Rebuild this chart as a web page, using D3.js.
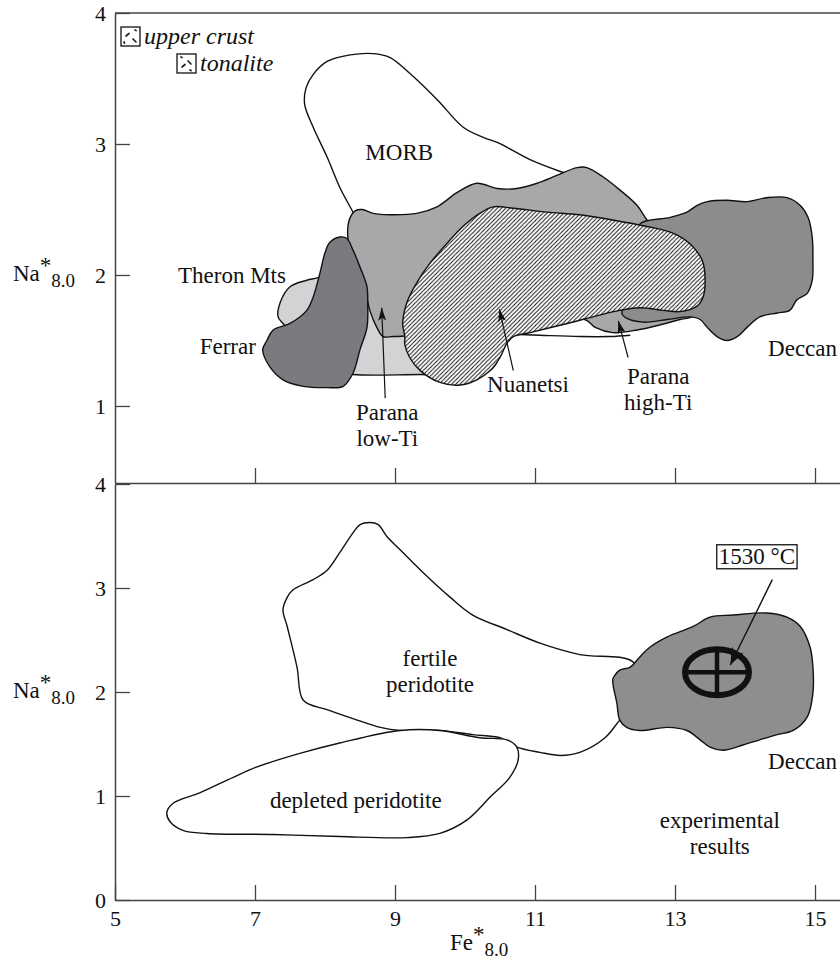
<!DOCTYPE html>
<html><head><meta charset="utf-8">
<script src="https://cdn.jsdelivr.net/npm/d3@7"></script>
<style>
html,body{margin:0;padding:0;background:#fff;}
text{font-family:"Liberation Serif","Times New Roman",serif;fill:#111;}
</style></head>
<body><svg id="c" width="840" height="967"></svg>
<script>
// ---------- data (Fe*8.0 , Na*8.0) ----------
const xTicks = [5, 7, 9, 11, 13, 15];
const topYTicks = [1, 2, 3, 4];
const botYTicks = [0, 1, 2, 3, 4];

// upper panel fields
const morb = [[8.40,2.48],[8.21,2.67],[8.03,2.90],[7.83,3.13],[7.71,3.30],[7.73,3.43],[7.83,3.53],[8.03,3.63],[8.36,3.68],[8.69,3.69],[8.93,3.66],[9.21,3.54],[9.60,3.34],[9.97,3.13],[10.26,3.05],[10.47,3.01],[10.93,2.88],[11.36,2.79],[11.71,2.73],[11.93,2.57],[11.36,2.46],[9.79,2.42],[8.50,2.38]];
const theronMts = [[7.90,1.98],[7.74,1.96],[7.50,1.91],[7.36,1.79],[7.33,1.68],[7.40,1.63],[7.64,1.50],[8.07,1.27],[8.40,1.24],[9.36,1.24],[10.21,1.24],[10.43,1.31],[10.50,1.66],[9.79,1.96],[8.79,2.04],[8.21,2.05]];
const parana = [[8.36,2.44],[8.43,2.49],[8.53,2.50],[8.69,2.47],[8.93,2.46],[9.31,2.47],[9.60,2.52],[9.89,2.63],[10.17,2.70],[10.46,2.66],[10.74,2.66],[11.03,2.70],[11.31,2.76],[11.60,2.82],[11.74,2.82],[11.97,2.75],[12.21,2.65],[12.46,2.53],[12.60,2.42],[12.86,2.27],[13.21,1.89],[13.26,1.69],[13.07,1.66],[12.79,1.62],[12.46,1.58],[12.11,1.56],[11.86,1.60],[11.71,1.66],[11.21,1.62],[10.50,1.56],[9.36,1.54],[8.97,1.53],[8.83,1.53],[8.74,1.60],[8.64,1.73],[8.57,1.89],[8.43,2.08],[8.33,2.27],[8.33,2.38]];
const paranaLowLine = [[10.57,1.55],[11.07,1.54],[11.64,1.53],[12.07,1.53],[12.36,1.54]];
const ferrar = [[8.21,2.29],[8.07,2.25],[8.00,2.17],[7.93,2.02],[7.83,1.83],[7.74,1.73],[7.50,1.63],[7.26,1.58],[7.17,1.50],[7.11,1.43],[7.21,1.30],[7.40,1.20],[7.69,1.15],[8.03,1.14],[8.26,1.15],[8.40,1.25],[8.50,1.43],[8.60,1.60],[8.61,1.79],[8.60,1.91],[8.50,2.06],[8.40,2.19],[8.31,2.28]];
const deccanTop = [[12.50,2.39],[12.93,2.44],[13.17,2.48],[13.31,2.53],[13.46,2.56],[13.74,2.57],[14.03,2.56],[14.31,2.59],[14.60,2.59],[14.79,2.53],[14.90,2.44],[14.96,2.29],[14.97,2.11],[14.96,1.96],[14.89,1.86],[14.74,1.81],[14.64,1.73],[14.46,1.71],[14.21,1.68],[14.03,1.60],[13.89,1.53],[13.74,1.50],[13.60,1.53],[13.46,1.60],[13.36,1.66],[13.21,1.68],[12.89,1.66],[12.54,1.64],[12.31,1.67],[12.24,1.71],[12.50,1.96],[12.50,2.27]];
const nuanetsi = [[9.14,1.53],[9.11,1.63],[9.17,1.79],[9.31,1.94],[9.50,2.09],[9.74,2.24],[9.97,2.37],[10.21,2.47],[10.40,2.52],[10.69,2.51],[11.17,2.48],[11.64,2.46],[12.11,2.42],[12.60,2.37],[12.97,2.32],[13.21,2.24],[13.39,2.11],[13.43,1.96],[13.40,1.83],[13.31,1.76],[13.07,1.72],[12.83,1.73],[12.50,1.75],[12.21,1.73],[11.89,1.69],[11.46,1.63],[10.93,1.56],[10.69,1.53],[10.60,1.48],[10.50,1.37],[10.36,1.27],[10.17,1.20],[9.93,1.16],[9.64,1.18],[9.36,1.27],[9.21,1.37],[9.14,1.47]];

// lower panel fields
const fertilePeridotite = [[8.50,3.61],[8.64,3.63],[8.76,3.61],[8.89,3.49],[9.07,3.37],[9.40,3.15],[9.79,2.91],[10.11,2.74],[10.60,2.60],[11.07,2.47],[11.64,2.36],[12.40,2.29],[12.57,2.02],[12.21,1.73],[12.00,1.56],[11.64,1.42],[11.36,1.39],[11.07,1.42],[10.74,1.47],[10.50,1.56],[10.11,1.59],[9.64,1.63],[9.07,1.63],[8.79,1.66],[8.46,1.73],[8.03,1.83],[7.69,1.92],[7.60,2.24],[7.46,2.63],[7.40,2.79],[7.46,2.91],[7.54,2.98],[7.83,3.08],[8.03,3.17],[8.21,3.34],[8.40,3.53]];
const depletedPeridotite = [[9.07,1.63],[8.21,1.51],[7.64,1.41],[7.03,1.28],[6.69,1.18],[6.21,1.03],[5.83,0.93],[5.74,0.84],[5.79,0.75],[5.97,0.67],[6.31,0.64],[7.26,0.63],[8.21,0.61],[9.17,0.60],[9.64,0.64],[10.03,0.77],[10.36,0.99],[10.64,1.18],[10.76,1.35],[10.74,1.47],[10.60,1.54],[10.21,1.56],[9.64,1.63]];
const deccanBottom = [[12.11,2.12],[12.17,1.89],[12.21,1.73],[12.31,1.66],[12.50,1.63],[12.89,1.66],[13.17,1.63],[13.36,1.54],[13.50,1.47],[13.69,1.44],[13.97,1.49],[14.21,1.54],[14.46,1.59],[14.69,1.63],[14.89,1.76],[14.97,1.99],[14.97,2.24],[14.93,2.43],[14.79,2.63],[14.60,2.72],[14.31,2.76],[13.83,2.74],[13.50,2.72],[13.26,2.63],[12.89,2.53],[12.64,2.43],[12.50,2.34],[12.36,2.24],[12.21,2.21],[12.14,2.16]];
const experimentPoint = [13.60, 2.19];   // 1530 °C experimental result
const experimentNote = {text: "1530 °C", at: [14.17, 3.31], from: [14.39, 3.08], to: [13.79, 2.26]};

// arrows (tail -> tip) in the upper panel
const topArrows = [
  {from: [8.86, 1.06], to: [8.81, 1.75]},
  {from: [10.69, 1.27], to: [10.49, 1.74]},
  {from: [12.33, 1.37], to: [12.19, 1.65]}
];
const topLabels = [
  {lines: ["MORB"], at: [9.06, 2.88], anchor: "middle"},
  {lines: ["Theron Mts"], at: [5.90, 1.94], anchor: "start"},
  {lines: ["Ferrar"], at: [6.21, 1.40], anchor: "start"},
  {lines: ["Parana", "low-Ti"], at: [8.89, 0.89], anchor: "middle"},
  {lines: ["Nuanetsi"], at: [10.90, 1.11], anchor: "middle"},
  {lines: ["Parana", "high-Ti"], at: [12.76, 1.17], anchor: "middle"},
  {lines: ["Deccan"], at: [14.33, 1.38], anchor: "start"}
];
const botLabels = [
  {lines: ["fertile", "peridotite"], at: [9.50, 2.25], anchor: "middle"},
  {lines: ["depleted peridotite"], at: [8.44, 0.88], anchor: "middle"},
  {lines: ["Deccan"], at: [14.33, 1.26], anchor: "start"},
  {lines: ["experimental", "results"], at: [13.64, 0.69], anchor: "middle"}
];
const legendItems = ["upper crust", "tonalite"];

// ---------- drawing ----------
const svg = d3.select("#c");
svg.append("rect").attr("width", 840).attr("height", 967).attr("fill", "#fff");

const x = d3.scaleLinear().domain([5, 15.357]).range([115, 840]);
const yTop = d3.scaleLinear().domain([0.412, 4]).range([483, 13]);
const yBot = d3.scaleLinear().domain([0, 4]).range([900, 484]);

const LABEL = 23;
const defs = svg.append("defs");
const pat = defs.append("pattern").attr("id", "hatch").attr("patternUnits", "userSpaceOnUse")
  .attr("width", 4.2).attr("height", 4.2);
pat.append("rect").attr("width", 4.2).attr("height", 4.2).attr("fill", "#fff");
pat.append("path").attr("d", "M-1.05,1.05 L1.05,-1.05 M0,4.2 L4.2,0 M3.15,5.25 L5.25,3.15")
  .attr("stroke", "#111").attr("stroke-width", 1);

function marker(id, len, wid) {
  defs.append("marker").attr("id", id).attr("markerUnits", "userSpaceOnUse")
    .attr("viewBox", `0 ${-wid/2} ${len} ${wid}`).attr("refX", len).attr("refY", 0)
    .attr("markerWidth", len).attr("markerHeight", wid).attr("orient", "auto")
    .append("path").attr("d", `M0,${-wid/2} L${len},0 L0,${wid/2} L${len*0.25},0 Z`).attr("fill", "#111");
}
marker("arr", 13, 8);
marker("arrBig", 17, 13);

const lineTop = d3.line().x(d => x(d[0])).y(d => yTop(d[1])).curve(d3.curveCatmullRomClosed.alpha(0.5));
const lineBot = d3.line().x(d => x(d[0])).y(d => yBot(d[1])).curve(d3.curveCatmullRomClosed.alpha(0.5));
const openTop = d3.line().x(d => x(d[0])).y(d => yTop(d[1])).curve(d3.curveCatmullRom.alpha(0.5));

const gTop = svg.append("g");
function field(g, gen, pts, fill) {
  g.append("path").attr("d", gen(pts)).attr("fill", fill)
    .attr("stroke", "#111").attr("stroke-width", 1.4).attr("stroke-linejoin", "round");
}
field(gTop, lineTop, morb, "#fff");
field(gTop, lineTop, theronMts, "#d3d3d5");
field(gTop, lineTop, parana, "#a8a8ab");
gTop.append("path").attr("d", openTop(paranaLowLine)).attr("fill", "none").attr("stroke", "#111").attr("stroke-width", 1.4);
field(gTop, lineTop, ferrar, "#7b7b7f");
field(gTop, lineTop, deccanTop, "#8c8c8f");
field(gTop, lineTop, nuanetsi, "url(#hatch)");

topArrows.forEach(a => {
  gTop.append("line").attr("x1", x(a.from[0])).attr("y1", yTop(a.from[1]))
    .attr("x2", x(a.to[0])).attr("y2", yTop(a.to[1]))
    .attr("stroke", "#111").attr("stroke-width", 1.2).attr("marker-end", "url(#arr)");
});

function labels(g, list, yS) {
  list.forEach(l => {
    const t = g.append("text").attr("text-anchor", l.anchor).attr("font-size", LABEL)
      .attr("x", x(l.at[0])).attr("y", yS(l.at[1]));
    l.lines.forEach((s, i) => t.append("tspan").attr("x", x(l.at[0])).attr("dy", i ? 26 : 0).text(s));
  });
}
labels(gTop, topLabels, yTop);

// legend
const lg = svg.append("g");
const legendPos = [[121, 27], [177, 54]];
legendItems.forEach((name, i) => {
  const [lx, ly] = legendPos[i];
  lg.append("rect").attr("x", lx).attr("y", ly).attr("width", 19).attr("height", 19)
    .attr("fill", "#fff").attr("stroke", "#222").attr("stroke-width", 1.4);
  const segs = i === 0
    ? [[14,3,15,3.5],[5,9,8,6.5],[12,12,15,15],[3,15,3.5,16]]
    : [[4,3,5,3.5],[11,7,14,10],[5,13,8,10.5],[13,16,14,16.5]];
  segs.forEach(s => lg.append("line").attr("x1", lx+s[0]).attr("y1", ly+s[1]).attr("x2", lx+s[2]).attr("y2", ly+s[3])
    .attr("stroke", "#222").attr("stroke-width", 1.7).attr("stroke-linecap", "round"));
  lg.append("text").attr("x", lx + 23).attr("y", ly + 17).attr("font-size", 24)
    .attr("font-style", "italic").text(name);
});

// lower panel
const gBot = svg.append("g");
field(gBot, lineBot, fertilePeridotite, "#fff");
field(gBot, lineBot, depletedPeridotite, "#fff");
field(gBot, lineBot, deccanBottom, "#8e8e90");
labels(gBot, botLabels, yBot);

// experiment symbol
const ex = x(experimentPoint[0]), ey = yBot(experimentPoint[1]);
gBot.append("ellipse").attr("cx", ex).attr("cy", ey).attr("rx", 32).attr("ry", 23)
  .attr("fill", "none").attr("stroke", "#111").attr("stroke-width", 6);
gBot.append("line").attr("x1", ex - 32).attr("x2", ex + 32).attr("y1", ey).attr("y2", ey).attr("stroke", "#111").attr("stroke-width", 4.5);
gBot.append("line").attr("x1", ex).attr("x2", ex).attr("y1", ey - 23).attr("y2", ey + 23).attr("stroke", "#111").attr("stroke-width", 4.5);

const nt = gBot.append("text").attr("x", x(experimentNote.at[0])).attr("y", yBot(experimentNote.at[1]) + 8)
  .attr("text-anchor", "middle").attr("font-size", LABEL).text(experimentNote.text);
const bb = nt.node().getBBox();
gBot.insert("rect", "text").attr("x", bb.x - 2).attr("y", bb.y + 1).attr("width", bb.width + 4).attr("height", bb.height - 1)
  .attr("fill", "#fff").attr("stroke", "#111").attr("stroke-width", 1.3);
gBot.append("line").attr("x1", x(experimentNote.from[0])).attr("y1", yBot(experimentNote.from[1]))
  .attr("x2", x(experimentNote.to[0])).attr("y2", yBot(experimentNote.to[1]))
  .attr("stroke", "#111").attr("stroke-width", 1.4).attr("marker-end", "url(#arrBig)");

// ---------- axes ----------
const axisColor = "#444";
function styleAxis(g) {
  g.selectAll("path.domain").attr("stroke", axisColor).attr("stroke-width", 1.5);
  g.selectAll(".tick line").attr("stroke", axisColor).attr("stroke-width", 1.3);
  g.selectAll(".tick text").attr("font-size", 22).attr("font-family", "Liberation Serif, serif").attr("fill", "#111");
}
// top border
svg.append("line").attr("x1", 115).attr("x2", 840).attr("y1", yTop(4)).attr("y2", yTop(4))
  .attr("stroke", axisColor).attr("stroke-width", 1.5);

const axTopY = svg.append("g").attr("transform", "translate(115,0)")
  .call(d3.axisLeft(yTop).tickValues(topYTicks).tickSizeInner(-15).tickSizeOuter(0).tickPadding(9).tickFormat(d3.format("d")));
styleAxis(axTopY);
const axBotY = svg.append("g").attr("transform", "translate(115,0)")
  .call(d3.axisLeft(yBot).tickValues(botYTicks).tickSizeInner(-15).tickSizeOuter(0).tickPadding(9).tickFormat(d3.format("d")));
styleAxis(axBotY);
const axTopX = svg.append("g").attr("transform", `translate(0,${yTop.range()[0]})`)
  .call(d3.axisBottom(x).tickValues(xTicks.slice(1)).tickSizeInner(-15).tickSizeOuter(0).tickFormat(""));
styleAxis(axTopX);
const axBotX = svg.append("g").attr("transform", `translate(0,${yBot.range()[0]})`)
  .call(d3.axisBottom(x).tickValues(xTicks).tickSizeInner(-15).tickSizeOuter(0).tickPadding(10).tickFormat(d3.format("d")));
styleAxis(axBotX);

// axis titles
function title(g, xp, yp, base, sub, anchor) {
  const t = g.append("text").attr("x", xp).attr("y", yp).attr("font-size", 23).attr("text-anchor", anchor);
  t.append("tspan").text(base);
  t.append("tspan").attr("dy", -8).text("*");
  t.append("tspan").attr("dy", 14).attr("font-size", 19).text(sub);
}
title(svg, 13, yTop(2) + 6, "Na", "8.0", "start");
title(svg, 13, yBot(2) + 6, "Na", "8.0", "start");
title(svg, 450, 950, "Fe", "8.0", "start");
</script></body></html>
